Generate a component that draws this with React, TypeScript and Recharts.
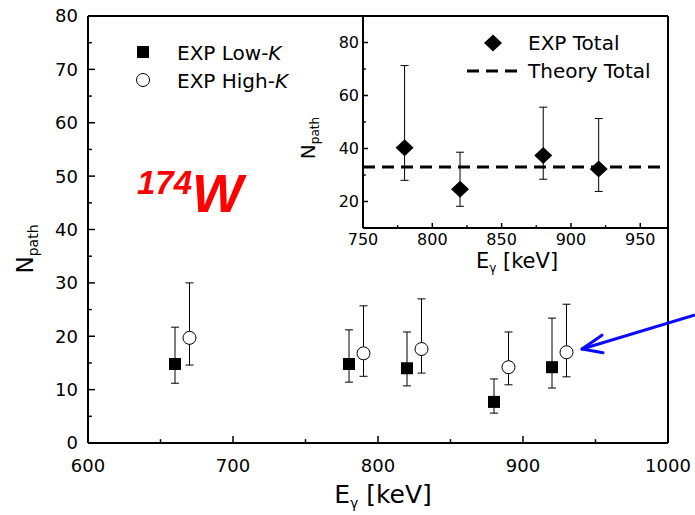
import React from "react";
import {
  ComposedChart,
  Scatter,
  XAxis,
  YAxis,
  ErrorBar,
  ReferenceLine,
  Legend,
} from "recharts";

// main panel: low-K / high-K paths
const lowKEnergy = [660, 780, 820, 880, 920];
const lowKValue = [14.8, 14.8, 14.0, 7.7, 14.2];
const lowKMin = [11.2, 11.4, 10.7, 5.6, 10.3];
const lowKMax = [21.7, 21.2, 20.8, 12.0, 23.4];

const highKEnergy = [670, 790, 830, 890, 930];
const highKValue = [19.7, 16.8, 17.6, 14.2, 17.0];
const highKMin = [14.6, 12.5, 13.1, 10.9, 12.4];
const highKMax = [30.0, 25.7, 27.0, 20.8, 26.0];

// inset: totals
const totalEnergy = [780, 820, 880, 920];
const totalValue = [40.3, 24.6, 37.4, 32.3];
const totalMin = [28.0, 18.2, 28.4, 23.8];
const totalMax = [71.3, 38.6, 55.6, 51.3];
const theoryTotal = 33;

const mainXTicks = [600, 650, 700, 750, 800, 850, 900, 950, 1000];
const mainYTicks = [0, 5, 10, 15, 20, 25, 30, 35, 40, 45, 50, 55, 60, 65, 70, 75, 80];
const insetXTicks = [750, 775, 800, 825, 850, 875, 900, 925, 950];
const insetYTicks = [20, 30, 40, 50, 60, 70, 80];

// arrow annotation, in data units of the main panel
const arrowTip = { x: 940.7, y: 17.6 };
const arrowTail = { x: 1018.6, y: 24.0 };
const arrowBarbs = [
  { x: 954.5, y: 20.2 },
  { x: 955.2, y: 16.9 },
];

const FONT = "'DejaVu Sans', sans-serif";

const toPoints = (xs: number[], ys: number[], lo: number[], hi: number[]) =>
  xs.map((x, i) => ({ x, y: ys[i], err: [ys[i] - lo[i], hi[i] - ys[i]] }));

const lowKData = toPoints(lowKEnergy, lowKValue, lowKMin, lowKMax);
const highKData = toPoints(highKEnergy, highKValue, highKMin, highKMax);
const totalData = toPoints(totalEnergy, totalValue, totalMin, totalMax);

const Square = (p: any) => (
  <rect x={p.cx - 6} y={p.cy - 6} width={12} height={12} fill="#000" />
);
const OpenCircle = (p: any) => (
  <circle cx={p.cx} cy={p.cy} r={6.5} fill="#fff" stroke="#000" strokeWidth={1} />
);
const Diamond = (p: any) => (
  <path
    d={`M${p.cx},${p.cy - 8.5} L${p.cx + 9},${p.cy} L${p.cx},${p.cy + 8.5} L${p.cx - 9},${p.cy} Z`}
    fill="#000"
  />
);

const BottomTick = (props: any) => {
  const { x, y, payload, every, len, gap, fontSize } = props;
  const major = payload.value % every === 0;
  const axisY = y - gap;
  return (
    <g>
      <line x1={x} x2={x} y1={axisY} y2={axisY - (major ? len : len * 0.55)} stroke="#000" strokeWidth={1.5} />
      {major && (
        <text x={x} y={y} dy="0.71em" textAnchor="middle" fontSize={fontSize} fontFamily={FONT} fill="#000">
          {payload.value}
        </text>
      )}
    </g>
  );
};

const LeftTick = (props: any) => {
  const { x, y, payload, every, len, gap, fontSize } = props;
  const major = payload.value % every === 0;
  const axisX = x + gap;
  return (
    <g>
      <line x1={axisX} x2={axisX + (major ? len : len * 0.55)} y1={y} y2={y} stroke="#000" strokeWidth={1.5} />
      {major && (
        <text x={x} y={y} dy="0.36em" textAnchor="end" fontSize={fontSize} fontFamily={FONT} fill="#000">
          {payload.value}
        </text>
      )}
    </g>
  );
};

const MainLegend = () => (
  <svg width={200} height={60} style={{ display: "block" }}>
    <rect x={7} y={8} width={12} height={12} fill="#000" />
    <text x={47} y={22} fontSize={20} fontFamily={FONT} fill="#000">
      EXP Low-<tspan fontStyle="italic">K</tspan>
    </text>
    <circle cx={13} cy={42} r={6.5} fill="#fff" stroke="#000" strokeWidth={1} />
    <text x={47} y={50} fontSize={20} fontFamily={FONT} fill="#000">
      EXP High-<tspan fontStyle="italic">K</tspan>
    </text>
  </svg>
);

const InsetLegend = () => (
  <svg width={210} height={60} style={{ display: "block" }}>
    <path d="M33,9.5 L42,18 L33,26.5 L24,18 Z" fill="#000" />
    <text x={68} y={25} fontSize={20} fontFamily={FONT} fill="#000">EXP Total</text>
    <line x1={7} x2={62} y1={46} y2={46} stroke="#000" strokeWidth={3} strokeDasharray="12 7" />
    <text x={68} y={53} fontSize={20} fontFamily={FONT} fill="#000">Theory Total</text>
  </svg>
);

export default function App() {
  return (
    <div style={{ position: "absolute", left: 0, top: 0, width: 695, height: 515, background: "#fff" }}>
      <ComposedChart width={695} height={515} margin={{ top: 16, right: 27, bottom: 0, left: 0 }}>
        <XAxis
          dataKey="x"
          type="number"
          domain={[600, 1000]}
          ticks={mainXTicks}
          interval={0}
          height={72}
          tickSize={0}
          tickMargin={16}
          tickLine={false}
          axisLine={{ stroke: "#000", strokeWidth: 2 }}
          tick={(p: any) => <BottomTick {...p} every={100} len={7} gap={16} fontSize={18} />}
          label={{
            content: () => (
              <text x={383} y={503} textAnchor="middle" fontSize={25} fontFamily={FONT} fill="#000">
                E<tspan fontSize={14} dy={5}>γ</tspan>
                <tspan dy={-5}> [keV]</tspan>
              </text>
            ),
          }}
        />
        <YAxis
          dataKey="y"
          type="number"
          domain={[0, 80]}
          ticks={mainYTicks}
          interval={0}
          width={88}
          tickSize={0}
          tickMargin={10}
          tickLine={false}
          axisLine={{ stroke: "#000", strokeWidth: 2 }}
          tick={(p: any) => <LeftTick {...p} every={10} len={7} gap={10} fontSize={18} />}
          label={{
            content: () => (
              <text
                transform="translate(33, 249) rotate(-90)"
                textAnchor="middle"
                fontSize={23}
                fontFamily={FONT}
                fill="#000"
              >
                N<tspan fontSize={14} dy={5}>path</tspan>
              </text>
            ),
          }}
        />
        <ReferenceLine y={80} stroke="#000" strokeWidth={2} />
        <ReferenceLine x={1000} stroke="#000" strokeWidth={2} />
        <Scatter data={lowKData} shape={Square} isAnimationActive={false} name="EXP Low-K">
          <ErrorBar dataKey="err" direction="y" width={4} stroke="#000" strokeWidth={1} />
        </Scatter>
        <Scatter data={highKData} shape={OpenCircle} isAnimationActive={false} name="EXP High-K">
          <ErrorBar dataKey="err" direction="y" width={4} stroke="#000" strokeWidth={1} />
        </Scatter>
        <ReferenceLine
          segment={[arrowTip, arrowTail]}
          ifOverflow="visible"
          stroke="#0a0aff"
          strokeWidth={3}
        />
        {arrowBarbs.map((b, i) => (
          <ReferenceLine
            key={i}
            segment={[arrowTip, b]}
            ifOverflow="visible"
            stroke="#0a0aff"
            strokeWidth={3}
            strokeLinecap="round"
          />
        ))}
        <Legend
          layout="vertical"
          align="center"
          verticalAlign="middle"
          content={() => <MainLegend />}
          wrapperStyle={{ position: "absolute", left: 130, top: 38, width: 200, height: 60 }}
        />
      </ComposedChart>

      <div style={{ position: "absolute", left: 137, top: 166, color: "#ff0000", fontFamily: "'Liberation Sans', Arial, sans-serif", fontWeight: "bold", fontStyle: "italic", whiteSpace: "nowrap", lineHeight: 1 }}>
        <span style={{ fontSize: 33, position: "relative", top: -18 }}>174</span>
        <span style={{ fontSize: 54 }}>W</span>
      </div>

      {/* inset */}
      <div style={{ position: "absolute", left: 288, top: 0 }}>
        <ComposedChart width={380} height={275} margin={{ top: 16, right: 0, bottom: 0, left: 0 }}>
          <XAxis
            dataKey="x"
            type="number"
            domain={[750, 970]}
            ticks={insetXTicks}
            interval={0}
            height={47}
            tickSize={0}
            tickMargin={6}
            tickLine={false}
            axisLine={{ stroke: "#000", strokeWidth: 2 }}
            tick={(p: any) => <BottomTick {...p} every={50} len={5} gap={6} fontSize={16} />}
            label={{
              content: () => (
                <text x={229} y={268} textAnchor="middle" fontSize={21} fontFamily={FONT} fill="#000">
                  E<tspan fontSize={12} dy={4}>γ</tspan>
                  <tspan dy={-4}> [keV]</tspan>
                </text>
              ),
            }}
          />
          <YAxis
            dataKey="y"
            type="number"
            domain={[10, 90]}
            ticks={insetYTicks}
            interval={0}
            width={75}
            tickSize={0}
            tickMargin={4}
            tickLine={false}
            axisLine={{ stroke: "#000", strokeWidth: 2 }}
            tick={(p: any) => <LeftTick {...p} every={20} len={5} gap={4} fontSize={16} />}
            label={{
              content: () => (
                <text
                  transform="translate(27, 138) rotate(-90)"
                  textAnchor="middle"
                  fontSize={20}
                  fontFamily={FONT}
                  fill="#000"
                >
                  N<tspan fontSize={12} dy={4}>path</tspan>
                </text>
              ),
            }}
          />
          <ReferenceLine y={theoryTotal} stroke="#000" strokeWidth={3} strokeDasharray="12 7" />
          <Scatter data={totalData} shape={Diamond} isAnimationActive={false} name="EXP Total">
            <ErrorBar dataKey="err" direction="y" width={4} stroke="#000" strokeWidth={1} />
          </Scatter>
          <Legend
            layout="vertical"
            align="center"
            verticalAlign="middle"
            content={() => <InsetLegend />}
            wrapperStyle={{ position: "absolute", left: 172, top: 25, width: 210, height: 60 }}
          />
        </ComposedChart>
      </div>
    </div>
  );
}
